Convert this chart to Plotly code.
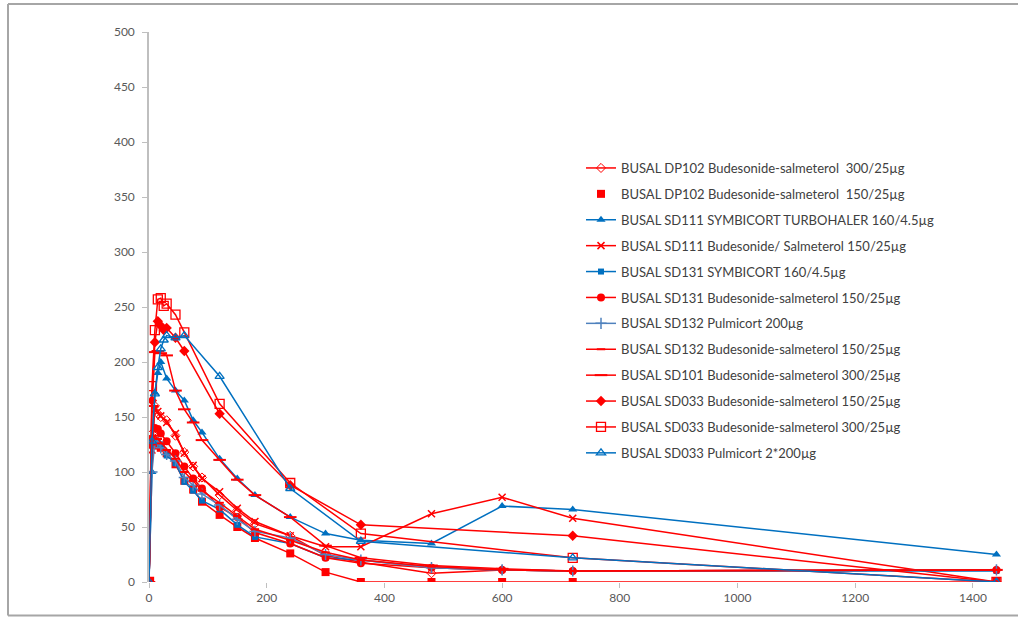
import plotly.graph_objects as go

# Time points (minutes)
T_STD = [0, 5, 10, 15, 20, 30, 45, 60, 75, 90, 120, 150, 180, 240, 300, 360, 480, 600, 720, 1440]
T_033 = [0, 5, 10, 15, 20, 25, 30, 45, 60, 120, 240, 360, 720, 1440]

# Series values
dp102_300 = [0, 135, 160, 153, 150, 147, 133, 118, 105, 95, 79, 65, 53, 42, 24, 18, 8, 11, 10, 11]
dp102_150 = [0, 125, 128, 124, 122, 117, 107, 92, 84, 73, 61, 50, 40, 26, 9, 0, 0, 0, 0, 0]
sd111_turbo = [0, 100, 172, 190, 200, 185, 174, 165, 147, 136, 112, 94, 79, 59, 44, 38, 35, 69, 66, 25]
sd111_bs = [0, 120, 157, 155, 151, 145, 135, 117, 106, 94, 82, 67, 55, 42, 32, 32, 62, 77, 58, 0]
sd131_sym = [0, 127, 128, 127, 125, 115, 108, 91, 83, 74, 66, 52, 41, 35, 22, 20, 13, 11, 10, 10]
sd131_bs = [0, 130, 140, 139, 135, 128, 117, 105, 94, 85, 68, 59, 45, 35, 22, 17, 13, 11, 10, 11]
sd132_pulm = [0, 100, 128, 127, 122, 116, 110, 95, 88, 80, 70, 57, 46, 40, 25, 20, 13, 11, 10, 11]
sd132_bs = [0, 125, 133, 130, 126, 120, 112, 100, 92, 83, 72, 60, 48, 38, 27, 20, 14, 11, 10, 11]
sd101_300 = [0, 160, 209, 210, 208, 206, 174, 157, 145, 129, 111, 93, 79, 59, 33, 22, 15, 12, 10, 11]
sd033_150 = [0, 165, 218, 237, 233, 229, 231, 222, 210, 153, 88, 52, 42, 0]
sd033_300 = [0, 178, 229, 257, 258, 251, 253, 243, 227, 162, 90, 44, 22, 0]
sd033_pulm = [0, 128, 171, 195, 212, 220, 224, 222, 224, 187, 85, 37, 22, 0]

names = [
    "BUSAL DP102 Budesonide-salmeterol  300/25µg",
    "BUSAL DP102 Budesonide-salmeterol  150/25µg",
    "BUSAL SD111 SYMBICORT TURBOHALER 160/4.5µg",
    "BUSAL SD111 Budesonide/ Salmeterol 150/25µg",
    "BUSAL SD131 SYMBICORT 160/4.5µg",
    "BUSAL SD131 Budesonide-salmeterol 150/25µg",
    "BUSAL SD132 Pulmicort 200µg",
    "BUSAL SD132 Budesonide-salmeterol 150/25µg",
    "BUSAL SD101 Budesonide-salmeterol 300/25µg",
    "BUSAL SD033 Budesonide-salmeterol 150/25µg",
    "BUSAL SD033 Budesonide-salmeterol 300/25µg",
    "BUSAL SD033 Pulmicort 2*200µg",
]

RED = "#FF0000"
BLUE = "#0070C0"
STEEL = "#4F81BD"

series = [
    (T_STD, dp102_300, RED, dict(symbol="diamond-open", size=7)),
    (T_STD, dp102_150, RED, dict(symbol="square", size=8)),
    (T_STD, sd111_turbo, BLUE, dict(symbol="triangle-up", size=8)),
    (T_STD, sd111_bs, RED, dict(symbol="x-thin", size=7, line=dict(width=1.5, color=RED))),
    (T_STD, sd131_sym, BLUE, dict(symbol="square", size=6)),
    (T_STD, sd131_bs, RED, dict(symbol="circle", size=8)),
    (T_STD, sd132_pulm, STEEL, dict(symbol="cross-thin", size=8, line=dict(width=1.5, color=STEEL))),
    (T_STD, sd132_bs, RED, dict(symbol="line-ew", size=6, line=dict(width=2, color=RED))),
    (T_STD, sd101_300, RED, dict(symbol="line-ew", size=9, line=dict(width=2, color=RED))),
    (T_033, sd033_150, RED, dict(symbol="diamond", size=8)),
    (T_033, sd033_300, RED, dict(symbol="square-open", size=9, line=dict(width=1.3, color=RED))),
    (T_033, sd033_pulm, BLUE, dict(symbol="triangle-up-open", size=8, line=dict(width=1.3, color=BLUE))),
]

fig = go.Figure()
for i, (t, y, col, mk) in enumerate(series):
    mk = dict(mk)
    mk["color"] = col
    if i == 1:
        # legend shows marker only; line drawn by a separate trace
        fig.add_trace(go.Scatter(x=t, y=y, mode="lines", line=dict(color=col, width=1.5),
                                 showlegend=False, hoverinfo="skip"))
        fig.add_trace(go.Scatter(x=t, y=y, mode="markers", marker=mk, name=names[i],
                                 legendgroup=f"g{i}"))
    else:
        fig.add_trace(go.Scatter(x=t, y=y, mode="lines+markers", marker=mk,
                                 line=dict(color=col, width=1.5), name=names[i],
                                 legendgroup=f"g{i}"))

# outer frame
px_l, px_r = 149, 1018
px_t, px_b = 32, 582
def xp(px):
    return (px - px_l) / (px_r - px_l)
def yp(py):
    return (px_b - py) / (px_b - px_t)

frame = dict(type="line", xref="paper", yref="paper", line=dict(color="#A6A6A6", width=2))
fig.add_shape(**frame, x0=xp(8), x1=xp(1020), y0=yp(4), y1=yp(4))
fig.add_shape(**frame, x0=xp(8), x1=xp(8), y0=yp(4), y1=yp(615.5))
fig.add_shape(**frame, x0=xp(8), x1=xp(1020), y0=yp(615.5), y1=yp(615.5))

fig.update_layout(
    width=1018, height=617,
    margin=dict(l=px_l, r=0, t=px_t, b=617 - px_b, pad=0),
    paper_bgcolor="white", plot_bgcolor="white",
    font=dict(family="Lato, 'Liberation Sans', sans-serif", size=12, color="#404040"),
    showlegend=True,
    legend=dict(x=xp(581), y=yp(153), xanchor="left", yanchor="top",
                bgcolor="rgba(0,0,0,0)", tracegroupgap=6,
                font=dict(size=13, color="#404040"), itemwidth=30),
    xaxis=dict(range=[0, 1476.6], tickvals=[0, 200, 400, 600, 800, 1000, 1200, 1400],
               showgrid=False, zeroline=False, showline=False,
               ticks="outside", ticklen=5, tickcolor="#BFBFBF",
               tickfont=dict(size=12, color="#595959")),
    yaxis=dict(range=[0, 500], tickvals=list(range(0, 501, 50)),
               showgrid=False, zeroline=False, showline=True, linecolor="#BFBFBF",
               linewidth=1.5, ticks="outside", ticklen=5, tickcolor="#BFBFBF",
               ticklabelstandoff=5,
               tickfont=dict(size=12, color="#595959")),
)

fig.write_html("out.html", config={"displayModeBar": False},
               post_script="document.body.style.margin='0';document.body.style.overflow='hidden';")
